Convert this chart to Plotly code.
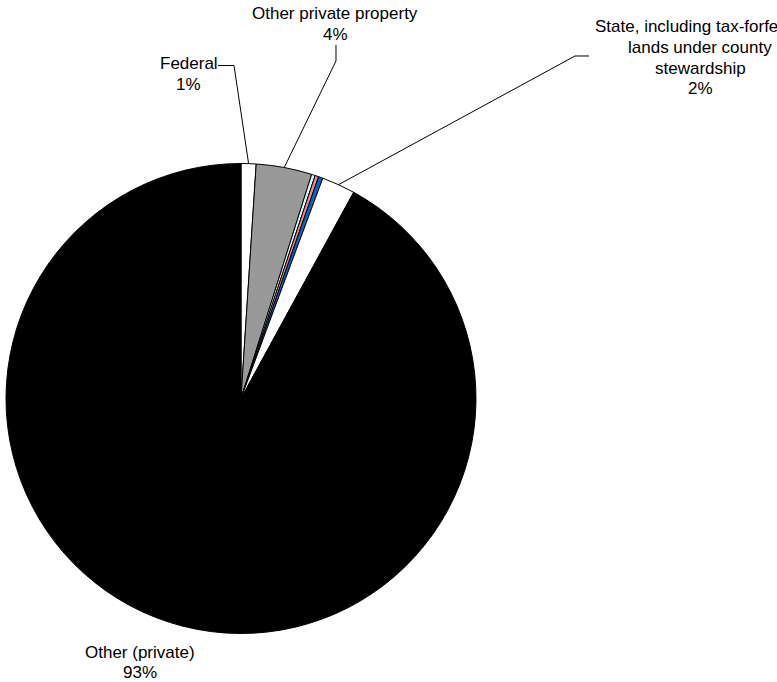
import math
import plotly.graph_objects as go

W, H = 777, 682

# ---- data (clockwise from 12 o'clock) ----
categories = ["Federal", "Other private property", "Minor category 1", "Minor category 2",
              "Minor category 3", "State, including tax-forfeited lands under county stewardship",
              "Other (private)"]
values = [1.03, 3.83, 0.25, 0.25, 0.30, 2.30, 92.04]
colors = ["#FFFFFF", "#999999", "#CCFFFF", "#FF8080", "#0066CC", "#FFFFFF", "#000000"]

# shown labels (lines) and their percentages as printed in the chart
label_lines = {
    "Federal": ["Federal", "1%"],
    "Other private property": ["Other private property", "4%"],
    "State, including tax-forfeited lands under county stewardship":
        ["State, including tax-forfeited", "lands under county", "stewardship", "2%"],
    "Other (private)": ["Other (private)", "93%"],
}

# ---- layout geometry (pixels) ----
CX, CY, R = 241, 398.5, 235
# label anchor: centre x, first-line centre y
label_pos = {
    "Federal": (188.5, 63.5),
    "Other private property": (335, 14),
    "State, including tax-forfeited lands under county stewardship": (700, 27),
    "Other (private)": (140, 652),
}
LINE_H = 20.5
# leader-line elbows (start point, elbow point) in pixels
leader_elbows = {
    "Federal": [(218, 65.5), (234, 65.5)],
    "Other private property": [(336, 45), (336, 61)],
    "State, including tax-forfeited lands under county stewardship": [(589, 56), (575, 56)],
}

def px(x):
    return x / W

def py(y):
    return 1 - y / H

fig = go.Figure(go.Pie(
    labels=categories,
    values=values,
    sort=False,
    direction="clockwise",
    rotation=0,
    marker=dict(colors=colors, line=dict(color="#000000", width=1)),
    textinfo="none",
    hoverinfo="label+percent",
    showlegend=False,
    domain=dict(x=[px(CX - R), px(CX + R)], y=[py(CY + R), py(CY - R)]),
))

# compute slice mid-angles from data for leader line end points
total = sum(values)
cum = 0.0
mid_angle = {}
for c, v in zip(categories, values):
    mid_angle[c] = (cum + v / 2) / total * 2 * math.pi
    cum += v

shapes = []
for c, pts in leader_elbows.items():
    a = mid_angle[c]
    ex, ey = CX + R * math.sin(a), CY - R * math.cos(a)
    allpts = pts + [(ex, ey)]
    path = "M " + " L ".join(f"{px(x):.5f},{py(y):.5f}" for x, y in allpts)
    shapes.append(dict(type="path", xref="paper", yref="paper", path=path,
                       line=dict(color="#000000", width=1)))

annotations = []
for c, lines in label_lines.items():
    lx, ly = label_pos[c]
    for i, t in enumerate(lines):
        annotations.append(dict(
            x=px(lx), y=py(ly + i * LINE_H), xref="paper", yref="paper",
            text=t, showarrow=False, xanchor="center", yanchor="middle",
            font=dict(family="Liberation Sans, Arial, sans-serif", size=17, color="#000000"),
        ))

fig.update_layout(
    width=W, height=H,
    margin=dict(l=0, r=0, t=0, b=0),
    paper_bgcolor="#FFFFFF",
    plot_bgcolor="#FFFFFF",
    shapes=shapes,
    annotations=annotations,
)

fig.write_html("out.html")
